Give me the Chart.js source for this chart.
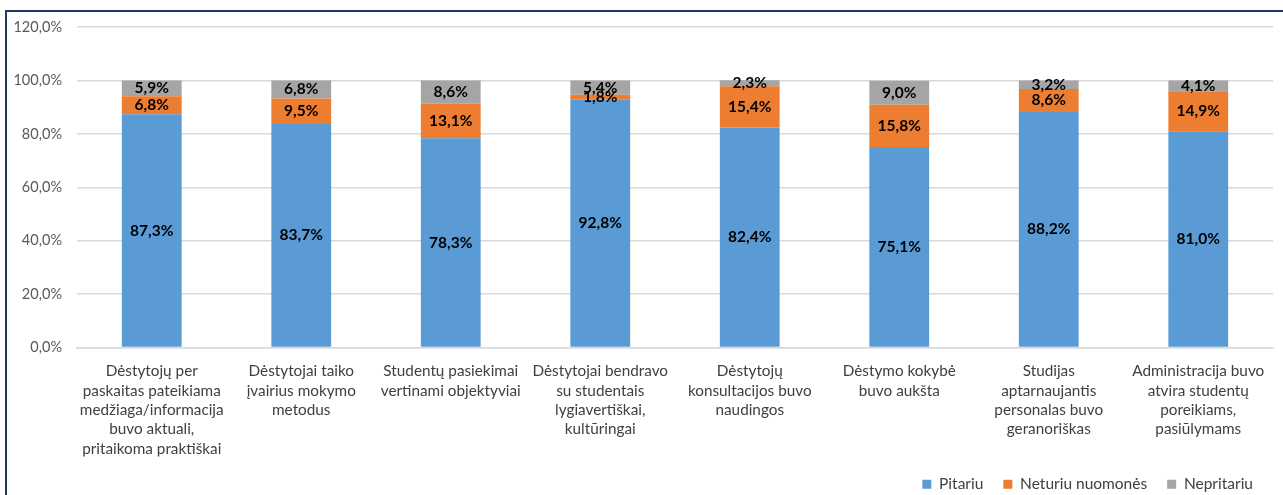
<!DOCTYPE html>
<html>
<head>
<meta charset="utf-8">
<script src="https://cdn.jsdelivr.net/npm/chart.js@4/dist/chart.umd.min.js"></script>
<style>
html,body{margin:0;padding:0;background:#fff;overflow:hidden}
#wrap{position:relative;width:1283px;height:495px}
#frame{position:absolute;left:5px;top:10px;width:1300px;height:520px;border:2px solid #1F3864;box-sizing:border-box}
canvas{position:absolute;left:0;top:0}
</style>
</head>
<body>
<div id="wrap">
<div id="frame"></div>
<canvas id="c" width="1283" height="495"></canvas>
</div>
<script>
// categories (wrapped lines as in the original)
const labels=[
  ['Dėstytojų per','paskaitas pateikiama','medžiaga/informacija','buvo aktuali,','pritaikoma praktiškai'],
  ['Dėstytojai taiko','įvairius mokymo','metodus'],
  ['Studentų pasiekimai','vertinami objektyviai'],
  ['Dėstytojai bendravo','su studentais','lygiavertiškai,','kultūringai'],
  ['Dėstytojų','konsultacijos buvo','naudingos'],
  ['Dėstymo kokybė','buvo aukšta'],
  ['Studijas','aptarnaujantis','personalas buvo','geranoriškas'],
  ['Administracija buvo','atvira studentų','poreikiams,','pasiūlymams']
];
const pitariu=[87.3,83.7,78.3,92.8,82.4,75.1,88.2,81.0];
const neturiu=[6.8,9.5,13.1,1.8,15.4,15.8,8.6,14.9];
const nepritariu=[5.9,6.8,8.6,5.4,2.3,9.0,3.2,4.1];

const FONT='Lato, "Open Sans", sans-serif';
const pct=v=>v.toFixed(1).replace('.',',')+'%';

// value labels in the middle of each segment
const segLabels={
  id:'segLabels',
  afterDatasetsDraw(chart){
    const ctx=chart.ctx;
    ctx.save();
    ctx.font='bold 15.5px '+FONT;
    ctx.fillStyle='#000';
    ctx.textAlign='center';ctx.textBaseline='middle';
    chart.data.datasets.forEach((ds,i)=>{
      chart.getDatasetMeta(i).data.forEach((el,j)=>{
        ctx.fillText(pct(ds.data[j]),el.x,(el.y+el.base)/2);
      });
    });
    ctx.restore();
  }
};

new Chart(document.getElementById('c'),{
  type:'bar',
  data:{
    labels,
    datasets:[
      {label:'Pitariu',data:pitariu,backgroundColor:'#5B9BD5'},
      {label:'Neturiu nuomonės',data:neturiu,backgroundColor:'#ED7D31'},
      {label:'Nepritariu',data:nepritariu,backgroundColor:'#A5A5A5'}
    ]
  },
  options:{
    responsive:false,animation:false,
    layout:{padding:{top:27,right:10,bottom:-7,left:0}},
    datasets:{bar:{barPercentage:0.4,categoryPercentage:1}},
    plugins:{
      legend:{position:'bottom',align:'end',
        labels:{boxWidth:9,boxHeight:9,padding:20,color:'#404040',font:{family:FONT,size:15.5}}},
      tooltip:{enabled:false}
    },
    scales:{
      x:{stacked:true,
        grid:{display:false},
        border:{color:'#d9d9d9',width:1.5},
        ticks:{color:'#404040',font:{family:FONT,size:15.3,lineHeight:1.27},maxRotation:0,autoSkip:false,padding:6},
        afterFit:s=>{s.height=109;}},
      y:{stacked:true,min:0,max:120,
        border:{display:false},
        grid:{color:'#d9d9d9',lineWidth:1.5,drawTicks:false},
        ticks:{stepSize:20,padding:15,color:'#595959',font:{family:FONT,size:14.5},callback:v=>pct(v)},
        afterFit:s=>{s.width=77;}}
    }
  },
  plugins:[segLabels]
});
</script>
</body>
</html>
